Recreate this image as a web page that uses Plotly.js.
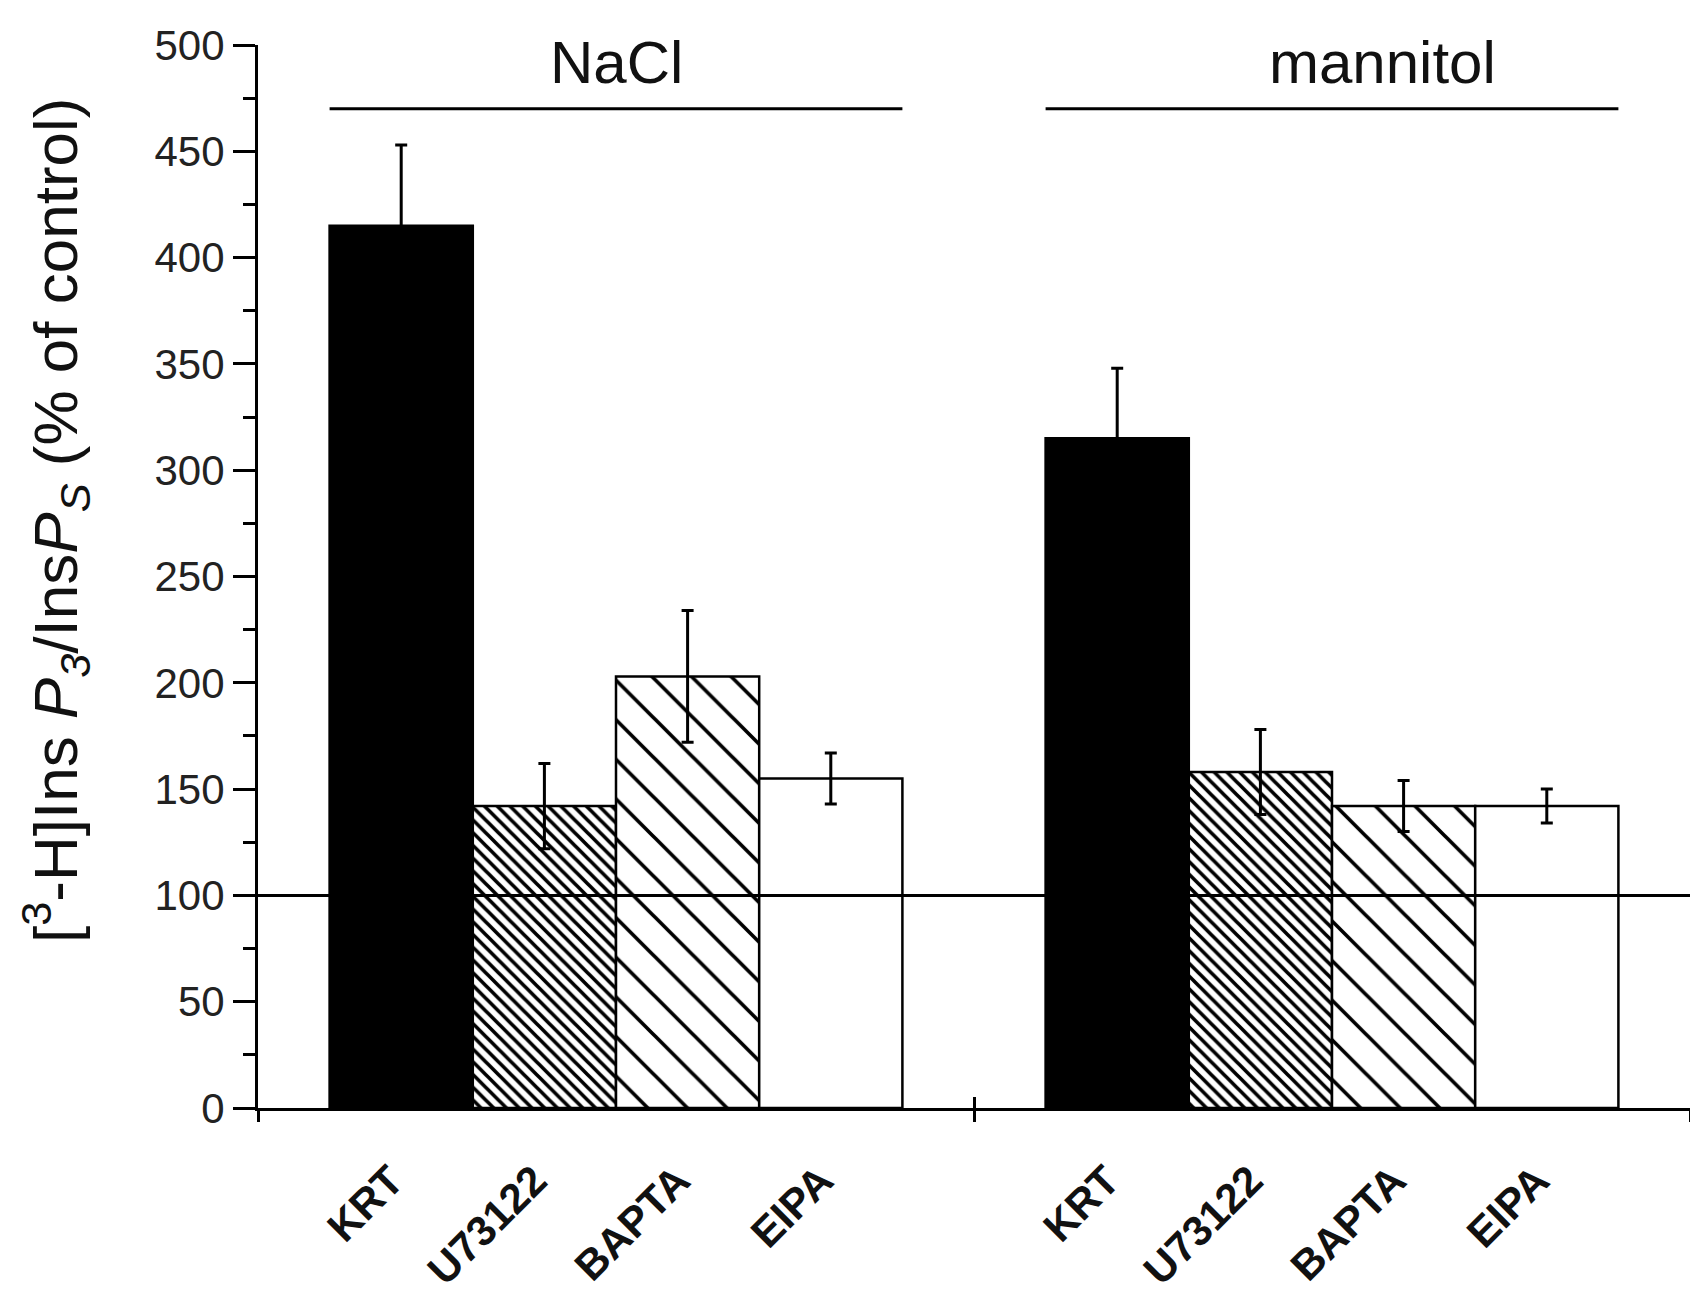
<!DOCTYPE html>
<html>
<head>
<meta charset="utf-8">
<script src="https://cdn.plot.ly/plotly-3.0.1.min.js"></script>
<style>html,body{margin:0;padding:0;background:#fff;}#chart{width:1690px;height:1295px;}</style>
</head>
<body>
<div id="chart"></div>
<script>
// ---- data ----
const groups = ['NaCl', 'mannitol'];
const treatments = ['KRT', 'U73122', 'BAPTA', 'EIPA'];
const naclMeans = [415, 142, 203, 155];
const naclErrors = [38, 20, 31, 12];
const mannitolMeans = [315, 158, 142, 142];
const mannitolErrors = [33, 20, 12, 8];
const controlLevel = 100;
const groupLineLevel = 470;
const groupLabelLevel = 492;
const yTickLabels = [0, 50, 100, 150, 200, 250, 300, 350, 400, 450, 500];

// ---- styling ----
const FONT = 'Arial, "Liberation Sans", sans-serif';
const styles = [
  {color: '#000000', pattern: {shape: ''}},
  {color: '#ffffff', pattern: {shape: '\\', size: 9, solidity: 0.4, fgcolor: '#000', bgcolor: '#fff', fillmode: 'replace'}},
  {color: '#ffffff', pattern: {shape: '\\', size: 28, solidity: 0.13, fgcolor: '#000', bgcolor: '#fff', fillmode: 'replace'}},
  {color: '#ffffff', pattern: {shape: ''}}
];
const groupSpacing = treatments.length + 1;
const pos = (g, t) => g * groupSpacing + t + 1;
const xRange = [0, 2 * groupSpacing];

const traces = treatments.map((name, t) => ({
  type: 'bar',
  name: name,
  x: groups.map((_, g) => pos(g, t)),
  y: [naclMeans[t], mannitolMeans[t]],
  width: 1,
  marker: {color: styles[t].color, pattern: styles[t].pattern, line: {color: '#000', width: 2.5}},
  error_y: {type: 'data', array: [naclErrors[t], mannitolErrors[t]], visible: true, color: '#000', thickness: 3, width: 6},
  showlegend: false,
  hoverinfo: 'skip'
}));

// control (100 %) reference line, drawn on an overlaying axis so it sits above the bars
traces.push({
  type: 'scatter', mode: 'lines', xaxis: 'x2', yaxis: 'y',
  x: xRange, y: [controlLevel, controlLevel],
  line: {color: '#000', width: 3}, showlegend: false, hoverinfo: 'skip'
});

const labelShift = 0.07;
const labelVals = [];
const labelText = [];
groups.forEach((_, g) => treatments.forEach((tr, t) => { labelVals.push(pos(g, t) - labelShift); labelText.push(tr); }));

const shapes = [];
groups.forEach((gname, g) => {
  const x0 = pos(g, 0) - 0.5, x1 = pos(g, treatments.length - 1) + 0.5;
  shapes.push({type: 'line', xref: 'x', yref: 'y', x0: x0, x1: x1, y0: groupLineLevel, y1: groupLineLevel,
    line: {color: '#000', width: 3}});
});
const annotations = [];
annotations.push({text: groups[0], xref: 'x', yref: 'y', x: 2.5, y: groupLabelLevel, showarrow: false,
  xanchor: 'center', yanchor: 'middle', font: {family: FONT, size: 60, color: '#111'}});
annotations.push({text: groups[1], xref: 'x', yref: 'y', x: 7.85, y: groupLabelLevel, showarrow: false,
  xanchor: 'center', yanchor: 'middle', font: {family: FONT, size: 60, color: '#111'}});
annotations.push({
  text: '[<sup>3</sup>-H]Ins <i>P</i><sub><i>3</i></sub>/Ins<i>P</i><sub><i>S</i></sub> (% of control)',
  xref: 'paper', yref: 'paper', x: -0.1418, y: 0.553, textangle: -90, showarrow: false,
  xanchor: 'center', yanchor: 'middle', font: {family: FONT, size: 62, color: '#111'}
});

const layout = {
  width: 1690, height: 1295,
  margin: {l: 258, r: 0, t: 45, b: 187},
  paper_bgcolor: '#fff', plot_bgcolor: 'rgba(0,0,0,0)',
  barmode: 'overlay',
  font: {family: FONT, color: '#111'},
  xaxis: {
    range: xRange, tickmode: 'array', tickvals: labelVals, ticktext: labelText,
    tickangle: -45, ticks: '', showgrid: false, zeroline: false,
    showline: true, linecolor: '#000', linewidth: 3,
    tickfont: {family: FONT, size: 42, color: '#111', weight: 'bold'},
    ticklabelstandoff: 28,
    minor: {tickmode: 'array', tickvals: [0, 5, 10], ticks: 'outside', ticklen: 11, tickwidth: 3, tickcolor: '#000', showgrid: false}
  },
  xaxis2: {
    overlaying: 'x', anchor: 'y', range: xRange, tickmode: 'array', tickvals: [5, 10],
    ticks: 'inside', ticklen: 11, tickwidth: 3, tickcolor: '#000',
    showticklabels: false, showgrid: false, zeroline: false, showline: false
  },
  yaxis: {
    range: [0, 500], tickmode: 'array', tickvals: yTickLabels, ticktext: yTickLabels.map(String),
    ticks: 'outside', ticklen: 22, tickwidth: 3, tickcolor: '#000',
    minor: {tickmode: 'linear', tick0: 0, dtick: 25, ticks: 'outside', ticklen: 12, tickwidth: 3, tickcolor: '#000'},
    showline: true, linecolor: '#000', linewidth: 3, showgrid: false, zeroline: false,
    tickfont: {family: FONT, size: 42, color: '#222'}
  },
  shapes: shapes,
  annotations: annotations
};

Plotly.newPlot('chart', traces, layout, {displayModeBar: false, staticPlot: true});
</script>
</body>
</html>
